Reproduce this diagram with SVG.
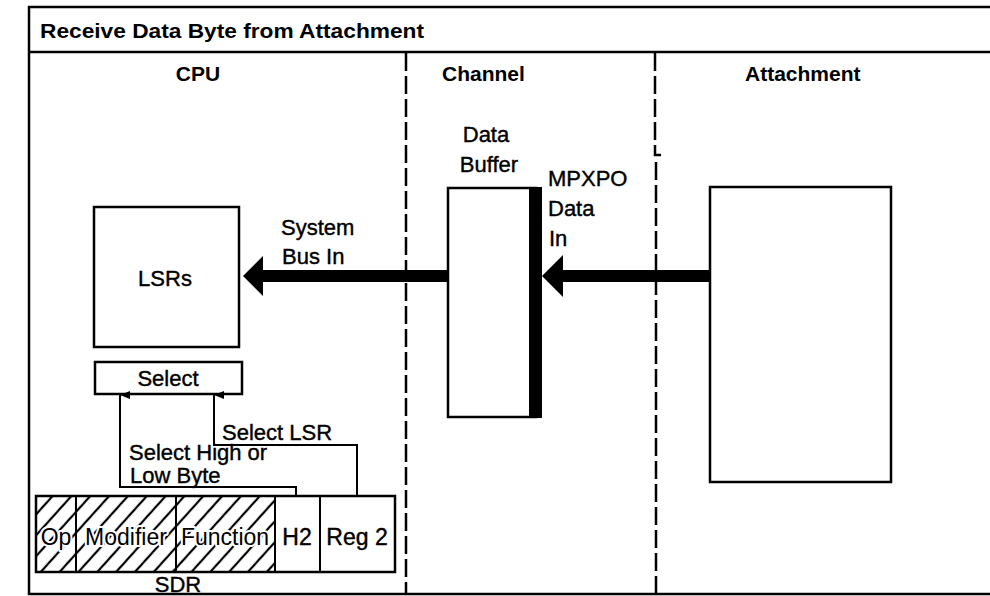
<svg xmlns="http://www.w3.org/2000/svg" width="990" height="596" viewBox="0 0 990 596">
<defs>
<style>
.t{font-family:"Liberation Sans",Arial,sans-serif;font-size:22px;fill:#000;stroke:#000;stroke-width:0.4}
.b{font-family:"Liberation Sans",Arial,sans-serif;font-size:21px;font-weight:bold;fill:#000}
.box{fill:#fff;stroke:#000;stroke-width:2.5}
.dash{stroke:#000;stroke-width:2.5;stroke-dasharray:18 5;fill:none}
.thin{stroke:#000;stroke-width:2;fill:none}
.bus{stroke:#000;stroke-width:12;fill:none}
.halo{paint-order:stroke;stroke:#fff;stroke-width:4;stroke-linejoin:round}
</style>
<pattern id="hatch" patternUnits="userSpaceOnUse" width="14" height="14" patternTransform="rotate(42)">
<line x1="7" y1="0" x2="7" y2="14" stroke="#000" stroke-width="2.2"/>
</pattern>
<marker id="ah" markerWidth="8" markerHeight="10" refX="4" refY="0" orient="auto-start-reverse" markerUnits="userSpaceOnUse" viewBox="0 0 8 10">
<path d="M0,10 L4,0 L8,10 Z" fill="#000"/>
</marker>
</defs>
<rect width="990" height="596" fill="#fff"/>
<g id="frame">
<rect x="29" y="7" width="980" height="587" fill="none" stroke="#000" stroke-width="2.5"/>
<line x1="29" y1="52" x2="990" y2="52" stroke="#000" stroke-width="2.5"/>
<text class="b" x="40" y="38" textLength="384" lengthAdjust="spacingAndGlyphs">Receive Data Byte from Attachment</text>
<line class="dash" x1="406" y1="53" x2="406" y2="594"/>
<line class="dash" x1="655" y1="53" x2="655" y2="146"/>
<path d="M655,146 V155 H661" fill="none" stroke="#000" stroke-width="2.5"/>
<line class="dash" x1="656" y1="162" x2="656" y2="594"/>
<text class="b" x="198" y="81" text-anchor="middle">CPU</text>
<text class="b" x="442" y="81">Channel</text>
<text class="b" x="745" y="81">Attachment</text>
</g>
<g id="lsrs">
<rect class="box" x="94" y="207" width="145" height="140"/>
<text class="t" x="165" y="286" text-anchor="middle">LSRs</text>
</g>
<g id="select">
<rect class="box" x="95" y="362" width="147" height="32"/>
<text class="t" x="168" y="386" text-anchor="middle">Select</text>
</g>
<g id="sdr">
<rect x="36" y="496" width="239" height="76" fill="url(#hatch)"/>
<rect x="36" y="496" width="359" height="76" fill="none" stroke="#000" stroke-width="2.5"/>
<line class="thin" x1="76" y1="496" x2="76" y2="572" stroke-width="2.5"/>
<line class="thin" x1="176" y1="496" x2="176" y2="572" stroke-width="2.5"/>
<line class="thin" x1="275" y1="496" x2="275" y2="572" stroke-width="2.5"/>
<line class="thin" x1="320" y1="496" x2="320" y2="572" stroke-width="2.5"/>
<text class="t halo" x="56" y="545" text-anchor="middle" style="font-size:23px">Op</text>
<text class="t halo" x="126" y="545" text-anchor="middle" style="font-size:23px">Modifier</text>
<text class="t halo" x="225" y="545" text-anchor="middle" style="font-size:23px">Function</text>
<text class="t" x="297" y="545" text-anchor="middle" style="font-size:23px">H2</text>
<text class="t" x="357" y="545" text-anchor="middle" style="font-size:23px">Reg 2</text>
<text class="t" x="178" y="592" text-anchor="middle">SDR</text>
</g>
<g id="data-buffer">
<rect class="box" x="448" y="188" width="88" height="229"/>
<rect x="529" y="187" width="13" height="231" fill="#000"/>
<text class="t" x="486" y="142" text-anchor="middle">Data</text>
<text class="t" x="489" y="172" text-anchor="middle">Buffer</text>
</g>
<g id="attachment">
<rect class="box" x="710" y="187" width="181" height="295"/>
</g>
<g id="connectors">
<line class="bus" x1="448" y1="276" x2="262" y2="276"/>
<path d="M243,276 L263,256 L263,296 Z" fill="#000"/>
<line class="bus" x1="710" y1="276" x2="562" y2="276"/>
<path d="M542,276 L563,255 L563,297 Z" fill="#000"/>
<path class="thin" d="M296,496 V487 H120 V395" marker-end="url(#ah)"/>
<path class="thin" d="M357,496 V445 H214 V395" marker-end="url(#ah)"/>
<text class="t" x="281" y="235">System</text>
<text class="t" x="282" y="264">Bus In</text>
<text class="t" x="548" y="186">MPXPO</text>
<text class="t" x="548" y="216">Data</text>
<text class="t" x="549" y="246">In</text>
<text class="t" x="222" y="440">Select LSR</text>
<text class="t" x="129" y="460">Select High or</text>
<text class="t" x="130" y="483">Low Byte</text>
</g>
</svg>
